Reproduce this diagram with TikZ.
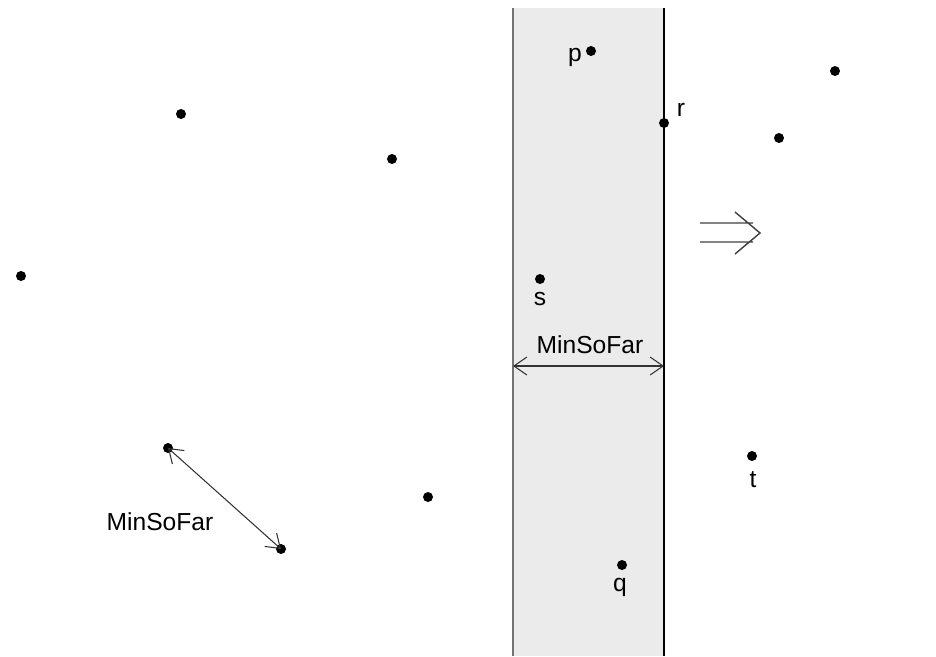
\documentclass[tikz,border=0pt]{standalone}
\usepackage{fontspec}
\setmainfont{Liberation Sans}
\usetikzlibrary{arrows.meta}
\definecolor{stripgray}{RGB}{235,235,235}
\begin{document}
\begin{tikzpicture}[x=0.02cm,y=-0.02cm,
dot/.style={circle,fill=black,inner sep=0pt,minimum size=0.2cm},
lbl/.style={inner sep=0pt,font=\fontsize{14}{17}\selectfont},
dist/.style={draw=black!80,line width=0.6pt,{Straight Barb[length=2.6mm,width=3.6mm]}-{Straight Barb[length=2.6mm,width=3.6mm]}},]
\useasboundingbox (0,0) rectangle (936,656);
% the strip
\fill[stripgray] (513,8) rectangle (664,656);
\draw[black!55,line width=0.8pt] (513,8) -- (513,656);
\draw[black,line width=1.4pt] (664,8) -- (664,656);
\coordinate (stripL) at (513,366);
\coordinate (stripR) at (664,366);
% points
\node[dot] (a) at (181,114) {};
\node[dot] (b) at (392,159) {};
\node[dot] (c) at (21,276) {};
\node[dot] (d) at (168,448) {};
\node[dot] (e) at (281,549) {};
\node[dot] (f) at (428,497) {};
\node[dot] (p) at (591,51) {};
\node[dot] (r) at (664,123) {};
\node[dot] (s) at (540,279) {};
\node[dot] (q) at (622,565) {};
\node[dot] (g) at (835,71) {};
\node[dot] (h) at (779,138) {};
\node[dot] (t) at (752,456) {};
\node[lbl] at (575,57) {p};
\node[lbl] at (681,110) {r};
\node[lbl] at (540,299) {s};
\node[lbl] at (620,587) {q};
\node[lbl] at (753,480) {t};
% distances
\draw[dist] (d.center) -- (e.center);
\node[lbl] (leftmin) at (160,522) {MinSoFar};
\draw[dist] (stripL) -- (stripR);
\node[lbl] (stripmin) at (590,345) {MinSoFar};
% sweep direction
\draw[black!75,line width=0.8pt] (700,223) -- (753,223) (700,242) -- (753,242)
  (735,212) -- (760,233) -- (735,254);
\end{tikzpicture}
\end{document}
